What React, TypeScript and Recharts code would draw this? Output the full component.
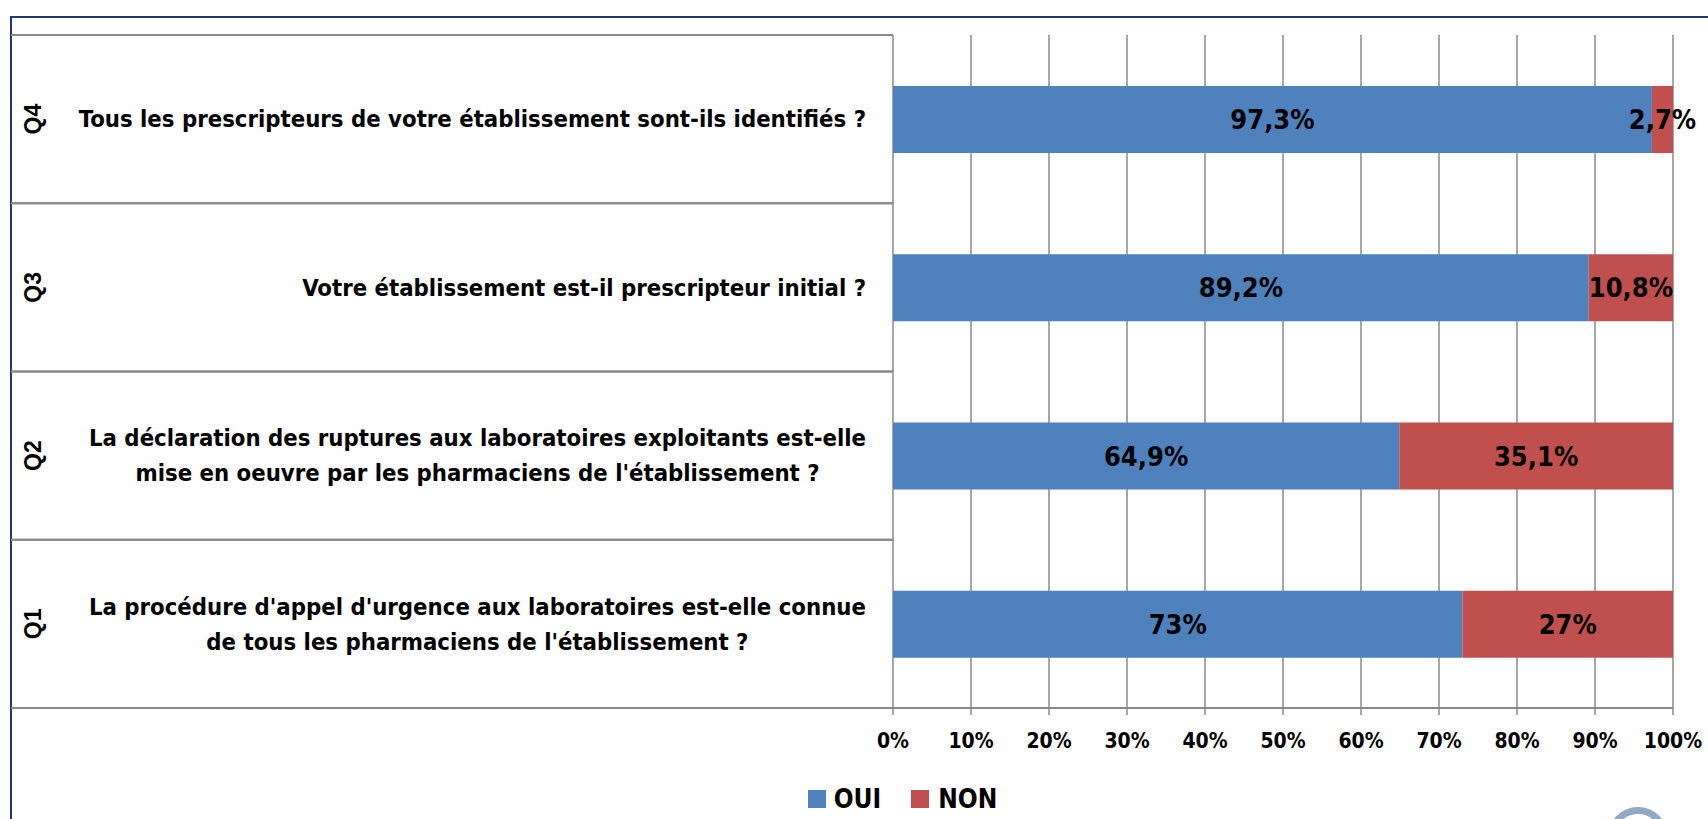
import React from 'react';
import { BarChart, Bar, XAxis, YAxis, CartesianGrid, Legend, LabelList } from 'recharts';

const questions = ['Q4', 'Q3', 'Q2', 'Q1'];
const questionLines = [
    ['Tous les prescripteurs de votre établissement sont-ils identifiés ?'],
    ['Votre établissement est-il prescripteur initial ?'],
    ['La déclaration des ruptures aux laboratoires exploitants est-elle', "mise en oeuvre par les pharmaciens de l'établissement ?"],
    ["La procédure d'appel d'urgence aux laboratoires est-elle connue", "de tous les pharmaciens de l'établissement ?"],
];
const ouiValues = [97.3, 89.2, 64.9, 73];
const nonValues = [2.7, 10.8, 35.1, 27];
const xTicks = [0, 10, 20, 30, 40, 50, 60, 70, 80, 90, 100];

const data = questions.map((q, i) => ({ q, oui: ouiValues[i], non: nonValues[i] }));

const W = 1708;
const H = 819;
const PLOT_LEFT = 893;
const PLOT_TOP = 35;
const PLOT_BOTTOM = 708;
const FRAME_LEFT = 11;
const TEXT_RIGHT = 866;
const BAND = (PLOT_BOTTOM - PLOT_TOP) / questions.length;

const FONT = '"Liberation Sans Narrow", "DejaVu Sans Condensed", "Arial Narrow", sans-serif';
const LABEL_SIZE = 23.7;
const GRID = '#8a8a8a';

let ctx: CanvasRenderingContext2D | null = null;
const measure = (s: string) => {
    if (!ctx) ctx = document.createElement('canvas').getContext('2d');
    if (!ctx) return s.length * LABEL_SIZE * 0.45;
    ctx.font = `bold ${LABEL_SIZE}px ${FONT}`;
    return ctx.measureText(s).width;
};

const fmt = (v: any) => String(v).replace('.', ',') + '%';

const CategoryTick = (props: any) => {
    const { y, payload, index } = props;
    const lines = questionLines[index] || [];
    const widths = lines.map(measure);
    const blockW = Math.max(...widths, 0);
    const center = TEXT_RIGHT - blockW / 2;
    const step = 35;
    const first = y - ((lines.length - 1) * step) / 2 + LABEL_SIZE * 0.35;
    return (
        <g>
            <line x1={FRAME_LEFT} x2={PLOT_LEFT} y1={y - BAND / 2} y2={y - BAND / 2} stroke={GRID} strokeWidth={2} />
            <line x1={FRAME_LEFT} x2={PLOT_LEFT} y1={y + BAND / 2} y2={y + BAND / 2} stroke={GRID} strokeWidth={2} />
            <text
                x={33}
                y={y}
                transform={`rotate(-90 33 ${y})`}
                textAnchor="middle"
                dominantBaseline="central"
                fontFamily='"Liberation Sans", Arial, sans-serif'
                fontWeight="bold"
                fontSize={23}
                fill="#000"
            >
                {payload.value}
            </text>
            {lines.map((l, i) => (
                <text
                    key={i}
                    x={lines.length > 1 ? center : TEXT_RIGHT}
                    y={first + i * step}
                    textAnchor={lines.length > 1 ? 'middle' : 'end'}
                    fontFamily={FONT}
                    fontWeight="bold"
                    fontSize={LABEL_SIZE}
                    fill="#000"
                >
                    {l}
                </text>
            ))}
        </g>
    );
};

const LegendContent = () => (
    <div style={{ display: 'flex', justifyContent: 'center', alignItems: 'center', height: 40, paddingTop: 4, boxSizing: 'border-box', paddingLeft: 132, fontFamily: FONT, fontWeight: 'bold', fontSize: 26, color: '#000' }}>
        <span style={{ width: 18, height: 18, background: '#4F81BD', marginRight: 8 }} />
        <span style={{ marginRight: 30 }}>OUI</span>
        <span style={{ width: 18, height: 18, background: '#C0504D', marginRight: 9 }} />
        <span>NON</span>
    </div>
);

export default function App() {
    return (
        <div style={{ position: 'relative', width: W, height: H, overflow: 'hidden', background: '#fff' }}>
            <style>{'body{margin:0;overflow:hidden}'}</style>
            <div
                style={{
                    position: 'absolute', left: FRAME_LEFT - 1, top: 16, width: 1800, height: 900,
                    border: '2px solid #1F3B70', boxSizing: 'border-box',
                }}
            />
            <div
                style={{
                    position: 'absolute', left: 1608, top: 807, width: 60, height: 60, borderRadius: '50%',
                    border: '7px solid #93a9c3', boxSizing: 'border-box',
                }}
            />
            <div style={{ position: 'absolute', left: 0, top: 0 }}>
                <BarChart
                    width={W}
                    height={H}
                    data={data}
                    layout="vertical"
                    margin={{ top: PLOT_TOP, right: W - 1673, left: 0, bottom: 2 }}
                >
                    <CartesianGrid horizontal={false} stroke={GRID} strokeWidth={1.5} />
                    <XAxis
                        type="number"
                        domain={[0, 100]}
                        ticks={xTicks}
                        tickFormatter={(v) => `${v}%`}
                        height={69}
                        axisLine={{ stroke: GRID, strokeWidth: 2 }}
                        tickLine={{ stroke: GRID, strokeWidth: 1.5 }}
                        tickSize={7}
                        tickMargin={18}
                        tick={{ fill: '#000', fontFamily: FONT, fontWeight: 'bold', fontSize: 21 }}
                        interval={0}
                    />
                    <YAxis
                        type="category"
                        dataKey="q"
                        width={PLOT_LEFT}
                        axisLine={false}
                        tickLine={false}
                        tick={<CategoryTick />}
                        interval={0}
                    />
                    <Legend verticalAlign="bottom" height={40} content={<LegendContent />} />
                    <Bar dataKey="oui" name="OUI" stackId="a" fill="#4F81BD" barSize={67} isAnimationActive={false}>
                        <LabelList dataKey="oui" position="center" formatter={fmt} fill="#000" fontFamily={FONT} fontWeight="bold" fontSize={27} />
                    </Bar>
                    <Bar dataKey="non" name="NON" stackId="a" fill="#C0504D" barSize={67} isAnimationActive={false}>
                        <LabelList dataKey="non" position="center" formatter={fmt} fill="#000" fontFamily={FONT} fontWeight="bold" fontSize={27} />
                    </Bar>
                </BarChart>
            </div>
        </div>
    );
}
